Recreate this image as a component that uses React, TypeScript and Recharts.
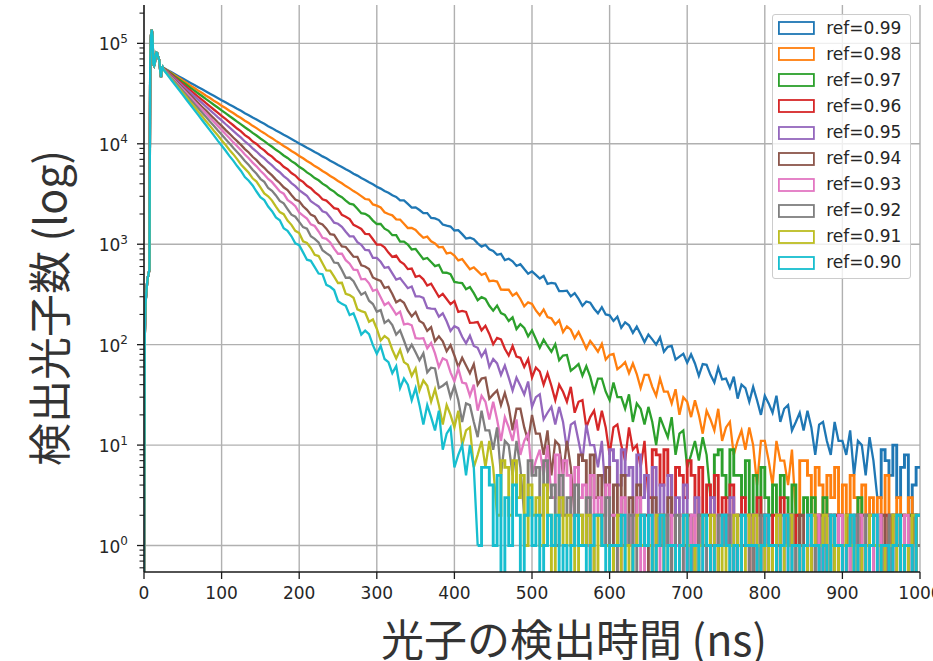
import React from 'react';
import { LineChart, Line, XAxis, YAxis, CartesianGrid, Legend } from 'recharts';

// ---- series ---------------------------------------------------------------
const seriesNames = [
  'ref=0.99', 'ref=0.98', 'ref=0.97', 'ref=0.96', 'ref=0.95',
  'ref=0.94', 'ref=0.93', 'ref=0.92', 'ref=0.91', 'ref=0.90',
];
const seriesColors = [
  '#1f77b4', '#ff7f0e', '#2ca02c', '#d62728', '#9467bd',
  '#8c564b', '#e377c2', '#7f7f7f', '#bcbd22', '#17becf',
];

// detection-time samples (ns): 1 ns steps through the rise, then every 5 ns
const riseTimes = [0, 1, 2, 3, 4, 5, 6, 7, 8, 9, 10, 11, 12, 13, 14, 15, 16, 17, 18, 19, 20, 21, 22, 23, 24];
const decayStart = 25;
const decayStep = 5;
const timeEnd = 1000;

// photon counts during the rise (common to all reflectivities)
const riseCounts = [
  0, 120, 260, 330, 410, 470, 510, 560, 66000, 120000,
  137000, 118000, 62000, 60000, 64000, 76000, 81000, 80000, 74000, 71000,
  66000, 52000, 46000, 56000, 58000,
];

// photon counts from 25 ns to 995 ns, one value per 5 ns
const ref099 = [
  57150, 54380, 51780, 49240, 46900, 44590, 42480, 40380, 38480, 36580,
  34850, 33130, 31570, 30010, 28600, 27180, 25900, 24610, 23460, 22290,
  21300, 20150, 19280, 18250, 17450, 16550, 15800, 14980, 14320, 13570,
  12960, 12280, 11730, 11170, 10630, 10080, 9640, 9130, 8730, 8270,
  7910, 7490, 7170, 6790, 6480, 6150, 5880, 5570, 5320, 5040,
  4820, 4570, 4370, 4140, 3960, 3740, 3580, 3390, 3250, 3070,
  2960, 2740, 2730, 2520, 2320, 2330, 2190, 2040, 2040, 1830,
  1810, 1740, 1570, 1530, 1500, 1370, 1380, 1260, 1140, 1160,
  1120, 1020, 948, 987, 890, 857, 785, 803, 694, 717,
  676, 608, 633, 566, 509, 537, 496, 456, 483, 403,
  412, 406, 342, 342, 345, 303, 326, 286, 244, 269,
  262, 228, 205, 236, 200, 196, 172, 190, 147, 167,
  156, 131, 151, 127, 106, 126, 113, 100, 118, 85,
  95, 97, 71, 76, 81, 66, 80, 65, 49, 64,
  63, 50, 42, 59, 45, 46, 37, 48, 29, 40,
  37, 27, 38, 28, 20, 31, 26, 21, 31, 17,
  23, 25, 14, 17, 21, 14, 22, 15, 8, 16,
  17, 11, 8, 17, 11, 11, 8, 14, 5, 11,
  10, 5, 12, 7, 3, 9, 7, 5, 10, 3,
  6, 8, 2, 4, 6,
];
const ref098 = [
  56900, 53650, 50750, 47850, 45250, 42650, 40350, 37950, 35950, 33850,
  32050, 30150, 28550, 26850, 25450, 23950, 22700, 21350, 20250, 19000,
  18050, 16950, 16080, 15100, 14320, 13450, 12760, 11990, 11380, 10690,
  10140, 9520, 9040, 8490, 8060, 7570, 7180, 6740, 6400, 6000,
  5700, 5360, 5080, 4780, 4530, 4260, 4040, 3790, 3600, 3380,
  3210, 3010, 2820, 2780, 2490, 2420, 2320, 2080, 2000, 1940,
  1770, 1760, 1600, 1450, 1450, 1390, 1260, 1160, 1190, 1070,
  1020, 930, 940, 810, 825, 772, 690, 710, 632, 564,
  589, 540, 494, 515, 429, 434, 425, 354, 352, 352,
  307, 327, 285, 241, 264, 255, 219, 196, 224, 188,
  183, 159, 175, 133, 152, 141, 116, 134, 111, 91,
  109, 97, 85, 102, 71, 79, 81, 57, 61, 67,
  52, 65, 51, 37, 50, 50, 38, 31, 46, 34,
  34, 26, 36, 20, 30, 27, 19, 28, 20, 13,
  22, 18, 14, 23, 11, 15, 17, 8, 11, 14,
  9, 15, 10, 4, 11, 11, 7, 4, 11, 7,
  7, 4, 9, 2, 7, 7, 5, 2, 6, 4,
  2, 5, 3, 6, 2, 4, 1, 5, 3, 2,
  4, 2, 3, 1, 3, 2, 5, 1, 2, 3,
  1, 2, 3, 1, 2,
];
const ref097 = [
  56700, 53050, 49850, 46650, 43800, 41000, 38500, 36050, 33850, 31680,
  29750, 27850, 26150, 24480, 22990, 21520, 20210, 18910, 17770, 16620,
  15620, 14610, 13740, 12840, 12080, 11290, 10620, 9920, 9340, 8710,
  8220, 7650, 7230, 6720, 6360, 5900, 5590, 5190, 4910, 4560,
  4330, 4010, 3800, 3520, 3340, 3090, 2940, 2720, 2530, 2480,
  2260, 2040, 2010, 1900, 1720, 1590, 1590, 1430, 1360, 1230,
  1230, 1060, 1060, 991, 886, 897, 797, 711, 729, 666,
  606, 624, 521, 520, 504, 422, 415, 410, 357, 375,
  326, 277, 297, 285, 244, 218, 245, 206, 198, 172,
  187, 143, 160, 147, 121, 139, 114, 93, 112, 97,
  85, 101, 70, 78, 79, 55, 59, 64, 49, 61,
  48, 34, 46, 46, 34, 28, 42, 30, 30, 23,
  32, 17, 26, 23, 16, 24, 17, 10, 19, 15,
  12, 19, 8, 13, 14, 6, 8, 11, 7, 12,
  8, 3, 8, 9, 5, 3, 9, 5, 5, 3,
  7, 1, 5, 2, 6, 3, 2, 4, 1, 5,
  3, 2, 4, 1, 2, 3, 1, 3, 2, 1,
  3, 2, 1, 2, 2, 1, 2, 1, 2, 3,
  1, 2, 1, 2, 2, 1, 0, 2, 1, 2,
  2, 1, 2, 1, 2,
];
const ref096 = [
  56350, 52450, 48740, 45380, 42170, 39260, 36470, 33960, 31540, 29370,
  27320, 25370, 23640, 21950, 20450, 18980, 17690, 16410, 15300, 14190,
  13300, 12200, 11500, 10550, 9950, 9150, 8600, 7900, 7450, 6840,
  6440, 5900, 5580, 5110, 4830, 4410, 4180, 3820, 3610, 3300,
  3090, 2800, 2720, 2500, 2290, 2240, 1960, 1880, 1780, 1560,
  1490, 1420, 1270, 1260, 1120, 990, 990, 932, 826, 748,
  769, 673, 635, 565, 572, 474, 486, 447, 388, 404,
  348, 299, 320, 285, 253, 271, 212, 217, 212, 165,
  166, 168, 139, 154, 128, 101, 117, 113, 91, 78,
  97, 76, 74, 60, 72, 47, 59, 54, 40, 52,
  39, 28, 40, 34, 27, 38, 21, 27, 28, 15,
  19, 22, 14, 22, 15, 8, 15, 16, 10, 7,
  15, 9, 10, 6, 11, 3, 9, 8, 4, 9,
  5, 1, 6, 5, 3, 7, 5, 1, 6, 2,
  4, 2, 5, 1, 3, 1, 4, 2, 1, 3,
  2, 0, 2, 3, 1, 2, 1, 2, 0, 3,
  1, 2, 1, 2, 0, 1, 2, 1, 2, 1,
  0, 2, 1, 2, 1, 0, 2, 1, 1, 2,
  0, 1, 2, 1, 1, 0, 2, 1, 2, 1,
  0, 1, 1, 2, 1,
];
const ref095 = [
  56150, 51890, 47890, 44280, 40850, 37770, 34850, 32230, 29720, 27490,
  25360, 23460, 21630, 20020, 18450, 17080, 15740, 14580, 13430, 12440,
  11500, 10550, 9830, 9000, 8380, 7680, 7150, 6550, 6100, 5580,
  5210, 4760, 4440, 4060, 3790, 3460, 3240, 3030, 2680, 2520,
  2380, 2130, 2060, 1850, 1640, 1600, 1490, 1330, 1200, 1200,
  1050, 985, 878, 869, 730, 731, 669, 583, 592, 513,
  444, 460, 410, 365, 379, 303, 303, 292, 232, 228,
  227, 190, 205, 171, 137, 153, 146, 120, 103, 123,
  97, 93, 76, 88, 60, 72, 65, 50, 62, 47,
  35, 47, 39, 32, 43, 24, 30, 32, 18, 21,
  24, 16, 24, 17, 9, 16, 17, 11, 7, 16,
  10, 10, 6, 11, 3, 9, 7, 4, 9, 5,
  6, 2, 8, 3, 5, 1, 6, 2, 4, 1,
  5, 2, 3, 1, 4, 0, 2, 3, 1, 2,
  1, 3, 0, 2, 2, 1, 3, 1, 0, 2,
  1, 1, 2, 1, 0, 2, 1, 1, 2, 0,
  1, 2, 1, 1, 0, 1, 2, 1, 1, 0,
  1, 2, 2, 1, 0, 1, 1, 2, 1, 0,
  1, 1, 2, 0, 2, 1, 0, 1, 0, 2,
  1, 1, 1, 0, 2,
];
const ref094 = [
  55880, 51220, 46880, 42990, 39360, 36100, 33040, 30310, 27730, 25440,
  23270, 21360, 19540, 17940, 16400, 15060, 13760, 12650, 11550, 10620,
  9750, 8860, 8190, 7430, 6880, 6240, 5770, 5240, 4850, 4400,
  4070, 3690, 3460, 3090, 2790, 2690, 2390, 2200, 1970, 1890,
  1630, 1570, 1430, 1260, 1240, 1080, 949, 939, 841, 751,
  748, 617, 600, 566, 467, 446, 431, 367, 376, 320,
  264, 279, 261, 218, 191, 211, 172, 163, 137, 149,
  108, 121, 108, 86, 99, 78, 60, 74, 62, 52,
  64, 40, 46, 47, 29, 32, 35, 25, 33, 24,
  14, 23, 23, 15, 11, 20, 13, 13, 8, 14,
  5, 11, 10, 5, 11, 6, 2, 8, 7, 2,
  8, 3, 5, 2, 6, 1, 4, 2, 5, 1,
  3, 1, 4, 2, 2, 0, 3, 1, 2, 1,
  3, 0, 1, 2, 1, 2, 0, 1, 2, 1,
  2, 1, 0, 1, 1, 2, 1, 0, 2, 1,
  1, 2, 0, 1, 2, 1, 1, 0, 2, 1,
  1, 2, 0, 1, 2, 1, 1, 0, 1, 2,
  1, 1, 0, 1, 2, 1, 1, 0, 1, 2,
  2, 1, 0, 1, 1, 2, 1, 0, 1, 1,
  2, 1, 0, 2, 1,
];
const ref093 = [
  55700, 50750, 46200, 42120, 38330, 34960, 31810, 29010, 26390, 24080,
  21900, 19990, 18170, 16590, 15080, 13770, 12510, 11430, 10380, 9490,
  8660, 7830, 7190, 6500, 5970, 5390, 4950, 4470, 4150, 3740,
  3360, 3190, 2760, 2590, 2390, 2070, 1930, 1800, 1580, 1520,
  1340, 1160, 1130, 1040, 905, 804, 807, 693, 640, 558,
  554, 447, 452, 408, 344, 354, 297, 248, 263, 230,
  199, 213, 159, 162, 156, 116, 115, 116, 92, 104,
  82, 60, 73, 70, 53, 43, 58, 42, 41, 31,
  40, 22, 31, 27, 18, 27, 18, 11, 19, 15,
  11, 18, 8, 11, 13, 5, 7, 9, 5, 10,
  3, 8, 2, 7, 5, 2, 6, 3, 4, 1,
  5, 2, 3, 1, 4, 2, 2, 0, 3, 1,
  2, 1, 3, 0, 1, 2, 1, 2, 0, 1,
  2, 1, 1, 2, 0, 1, 2, 1, 1, 0,
  1, 0, 2, 1, 1, 2, 1, 0, 0, 1,
  2, 1, 2, 1, 0, 1, 1, 1, 2, 0,
  0, 2, 1, 1, 1, 0, 1, 2, 2, 1,
  0, 1, 1, 1, 2, 0, 0, 1, 1, 2,
  1, 2, 0, 1, 2, 0, 1, 1, 1, 1,
  0, 2, 0, 1, 1,
];
const ref092 = [
  55450, 50200, 45380, 41100, 37130, 33630, 30390, 27540, 24870, 22540,
  20360, 18460, 16650, 15100, 13630, 12370, 11150, 10130, 9130, 8290,
  7510, 6750, 6140, 5520, 5030, 4480, 4180, 3630, 3400, 3060,
  2700, 2550, 2240, 1970, 1880, 1670, 1480, 1430, 1200, 1130,
  1040, 873, 816, 768, 657, 648, 554, 463, 466, 429,
  362, 314, 332, 274, 254, 213, 221, 165, 176, 157,
  126, 139, 110, 86, 100, 84, 70, 82, 53, 59,
  58, 37, 39, 42, 30, 39, 28, 17, 26, 25,
  17, 12, 22, 14, 14, 9, 15, 5, 11, 10,
  5, 11, 6, 2, 7, 5, 6, 2, 7, 3,
  4, 1, 5, 2, 3, 1, 4, 2, 1, 3,
  0, 2, 2, 1, 3, 1, 0, 2, 1, 1,
  2, 0, 1, 2, 1, 1, 0, 2, 1, 2,
  1, 0, 2, 1, 0, 1, 1, 0, 2, 1,
  0, 1, 1, 2, 1, 2, 0, 1, 2, 1,
  1, 0, 1, 0, 2, 1, 0, 1, 1, 2,
  1, 2, 1, 0, 1, 0, 2, 1, 0, 1,
  1, 0, 2, 1, 0, 1, 1, 1, 2, 0,
  0, 2, 1, 1, 1, 0, 1, 2, 2, 1,
  0, 1, 1, 0, 1,
];
const ref091 = [
  55200, 49510, 44470, 39870, 35820, 32110, 28850, 25850, 23240, 20820,
  18720, 16760, 15080, 13490, 12150, 10860, 9800, 8740, 7890, 7040,
  6230, 5660, 5150, 4530, 4200, 3690, 3210, 3000, 2720, 2370,
  2090, 1990, 1720, 1560, 1360, 1290, 1070, 1030, 917, 783,
  763, 647, 548, 545, 475, 411, 413, 321, 312, 293,
  225, 216, 209, 169, 178, 144, 110, 122, 114, 89,
  73, 89, 67, 63, 49, 58, 35, 44, 39, 27,
  36, 25, 16, 25, 20, 15, 22, 10, 14, 15,
  6, 8, 11, 6, 11, 6, 2, 7, 6, 2,
  7, 3, 5, 1, 4, 2, 3, 1, 4, 2,
  0, 2, 3, 1, 2, 1, 0, 2, 1, 2,
  1, 0, 2, 1, 1, 0, 1, 2, 0, 1,
  0, 1, 2, 1, 1, 1, 0, 2, 2, 0,
  1, 1, 0, 1, 2, 1, 1, 0, 1, 2,
  1, 2, 0, 1, 0, 1, 1, 2, 1, 0,
  2, 1, 2, 1, 0, 1, 0, 1, 2, 0,
  1, 2, 1, 1, 0, 1, 0, 2, 1, 1,
  2, 0, 1, 0, 1, 1, 2, 1, 0, 1,
  0, 1, 2, 1, 1, 0, 1, 1, 2, 0,
  1, 0, 1, 2, 0,
];
const ref090 = [
  54900, 48900, 43480, 38740, 34480, 30730, 27310, 24340, 21650, 19310,
  17150, 15300, 13590, 12130, 10760, 9610, 8580, 7580, 6800, 6000,
  5370, 4660, 4290, 3850, 3350, 2940, 2750, 2370, 2130, 1850,
  1730, 1440, 1360, 1200, 1020, 978, 829, 701, 684, 592,
  511, 503, 394, 377, 350, 271, 255, 244, 197, 205,
  164, 126, 138, 127, 99, 81, 97, 72, 67, 52,
  61, 37, 46, 40, 28, 37, 25, 16, 25, 19,
  14, 22, 9, 13, 15, 6, 8, 10, 5, 10,
  6, 1, 6, 6, 4, 1, 5, 0, 3, 1,
  4, 2, 0, 2, 3, 1, 2, 0, 1, 2,
  1, 2, 0, 1, 0, 1, 2, 1, 1, 0,
  1, 2, 2, 1, 0, 1, 1, 1, 2, 0,
  0, 1, 1, 2, 1, 2, 0, 1, 2, 0,
  1, 1, 0, 1, 2, 0, 1, 1, 0, 2,
  1, 0, 1, 1, 2, 1, 0, 1, 0, 2,
  1, 1, 1, 0, 1, 2, 1, 1, 0, 1,
  2, 0, 1, 1, 0, 1, 2, 1, 1, 0,
  1, 0, 2, 1, 1, 0, 1, 2, 0, 1,
  1, 0, 1, 2, 0, 1, 1, 0, 1, 2,
  0, 1, 1, 0, 2,
];

// ---- axes -----------------------------------------------------------------
const xTicks = [0, 100, 200, 300, 400, 500, 600, 700, 800, 900, 1000];
const yMajorTicks = [1, 10, 100, 1000, 10000, 100000];
const yMinorTicks = [
  0.6, 0.7, 0.8, 0.9,
  2, 3, 4, 5, 6, 7, 8, 9,
  20, 30, 40, 50, 60, 70, 80, 90,
  200, 300, 400, 500, 600, 700, 800, 900,
  2000, 3000, 4000, 5000, 6000, 7000, 8000, 9000,
  20000, 30000, 40000, 50000, 60000, 70000, 80000, 90000,
  200000,
];
const yDomain: [number, number] = [0.545, 241000];
const xTitle = '光子の検出時間 (ns)';
const yTitle = '検出光子数 (log)';

// empty bins have no place on a log axis; they are sent below the frame
const EMPTY_BIN_LEVEL = 0.3;
// once a curve is down to a few counts per bin it is drawn as histogram steps
const STEP_COUNT_LEVEL = 3;

// ---- table for the chart --------------------------------------------------
const decayTimes: number[] = [];
for (let t = decayStart; t < timeEnd; t += decayStep) decayTimes.push(t);
const times = [...riseTimes, ...decayTimes, timeEnd];

const seriesCounts = [ref099, ref098, ref097, ref096, ref095, ref094, ref093, ref092, ref091, ref090];
const fullCounts = seriesCounts.map((c) => [...riseCounts, ...c, c[c.length - 1]]);

const stepFrom = fullCounts.map((c) => {
  for (let i = riseTimes.length; i < c.length; i++) if (c[i] <= STEP_COUNT_LEVEL) return i;
  return c.length - 1;
});

const rows = times.map((t, i) => {
  const row: Record<string, number | null> = { t };
  fullCounts.forEach((c, s) => {
    const v = c[i] > 0 ? c[i] : EMPTY_BIN_LEVEL;
    row[`a${s}`] = i <= stepFrom[s] ? v : null;
    row[`b${s}`] = i >= stepFrom[s] ? v : null;
  });
  return row;
});

// ---- drawing helpers ------------------------------------------------------
const TEXT = '#262626';
const SPINE = '#1a1a1a';
const LINE_WIDTH = 2.3;
const TAIL_LINE_WIDTH = 2.9;

const YTick = (props: any) => {
  const { x, y, payload } = props;
  const v = payload.value as number;
  const lg = Math.log10(v);
  const exp = Math.round(lg);
  if (Math.abs(lg - exp) > 1e-9) {
    return <line x1={x - 4.5} x2={x} y1={y} y2={y} stroke={SPINE} strokeWidth={1.1} />;
  }
  return (
    <g>
      <line x1={x - 7} x2={x} y1={y} y2={y} stroke={SPINE} strokeWidth={1.3} />
      <text x={x - 16} y={y + 7} textAnchor="end" fontFamily="DejaVu Sans" fontSize={17} fill={TEXT}>
        10<tspan dy={-7.5} fontSize={12}>{exp}</tspan>
      </text>
    </g>
  );
};

const XTick = (props: any) => {
  const { x, y, payload } = props;
  return (
    <g>
      <line x1={x} x2={x} y1={y} y2={y + 7} stroke={SPINE} strokeWidth={1.3} />
      <text x={x} y={y + 27} textAnchor="middle" fontFamily="DejaVu Sans" fontSize={17} fill={TEXT}>
        {payload.value}
      </text>
    </g>
  );
};

const XTitle = (props: any) => {
  const vb = props.viewBox || { x: 144, y: 572, width: 776, height: 30 };
  return (
    <text
      x={vb.x + vb.width / 2 + 42}
      y={vb.y + 84}
      textAnchor="middle"
      fontFamily="'Noto Sans CJK JP', sans-serif"
      fontSize={43}
      fill="#333333"
    >
      {xTitle}
    </text>
  );
};

const YTitle = (props: any) => {
  const vb = props.viewBox || { x: 84, y: 5, width: 60, height: 567 };
  const cx = vb.x - 18;
  const cy = vb.y + vb.height / 2 + 19.5;
  return (
    <text
      x={0}
      y={0}
      transform={`translate(${cx}, ${cy}) rotate(-90)`}
      textAnchor="middle"
      fontFamily="'Noto Sans CJK JP', sans-serif"
      fontSize={43}
      fill="#333333"
    >
      {yTitle}
    </text>
  );
};

const LegendBox = (props: any) => {
  const seen = new Set<string>();
  const payload = ((props.payload || []) as any[])
    .filter((e) => e.type !== 'none' && seriesNames.includes(e.value))
    .filter((e) => (seen.has(e.value) ? false : (seen.add(e.value), true)))
    .sort((a, b) => seriesNames.indexOf(a.value) - seriesNames.indexOf(b.value));
  return (
    <div
      style={{
        boxSizing: 'border-box',
        width: 139,
        height: 265,
        background: 'rgba(255,255,255,0.8)',
        border: '1px solid #cccccc',
        borderRadius: 3,
        paddingTop: 0.3,
      }}
    >
      {payload.map((entry) => (
        <div key={entry.value} style={{ height: 26.05, display: 'flex', alignItems: 'center' }}>
          <svg width={37} height={14} style={{ marginLeft: 5, flex: 'none' }}>
            <rect x={0.9} y={1} width={35} height={12} fill="none" stroke={entry.color} strokeWidth={1.8} />
          </svg>
          <span
            style={{
              marginLeft: 11.2,
              fontFamily: 'DejaVu Sans',
              fontSize: 17,
              lineHeight: 1,
              color: TEXT,
              whiteSpace: 'nowrap',
            }}
          >
            {entry.value}
          </span>
        </div>
      ))}
    </div>
  );
};

export default function App() {
  return (
    <div style={{ position: 'absolute', left: 0, top: 0, width: 933, height: 661, background: '#ffffff' }}>
      <LineChart
        width={933}
        height={661}
        data={rows}
        margin={{ top: 5, right: 13, bottom: 59, left: 84 }}
        style={{ fontFamily: 'DejaVu Sans' }}
      >
        <CartesianGrid
          horizontalValues={yMajorTicks}
          verticalValues={xTicks}
          stroke="#b0b0b0"
          strokeWidth={1.4}
        />
        <XAxis
          dataKey="t"
          type="number"
          domain={[0, timeEnd]}
          ticks={xTicks}
          interval={0}
          allowDataOverflow
          height={30}
          tickSize={0}
          tickMargin={0}
          tickLine={false}
          tick={<XTick />}
          axisLine={{ stroke: SPINE, strokeWidth: 1.5 }}
          label={<XTitle />}
        />
        <XAxis
          xAxisId="top"
          orientation="top"
          type="number"
          domain={[0, timeEnd]}
          height={0}
          tick={false}
          tickLine={false}
          axisLine={{ stroke: SPINE, strokeWidth: 1.5 }}
        />
        <YAxis
          type="number"
          scale="log"
          domain={yDomain}
          allowDataOverflow
          ticks={[...yMajorTicks, ...yMinorTicks]}
          interval={0}
          width={60}
          tickSize={0}
          tickMargin={0}
          tickLine={false}
          tick={<YTick />}
          axisLine={{ stroke: SPINE, strokeWidth: 1.5 }}
          label={<YTitle />}
        />
        <YAxis
          yAxisId="right"
          orientation="right"
          width={0}
          tick={false}
          tickLine={false}
          axisLine={{ stroke: SPINE, strokeWidth: 1.5 }}
        />
        {seriesNames.flatMap((name, s) => [
          <Line
            key={`${name}-decay`}
            name={name}
            dataKey={`a${s}`}
            type="linear"
            stroke={seriesColors[s]}
            strokeWidth={LINE_WIDTH}
            strokeLinejoin="miter"
            dot={false}
            activeDot={false}
            isAnimationActive={false}
          />,
          <Line
            key={`${name}-tail`}
            name={`${name} tail`}
            legendType="none"
            dataKey={`b${s}`}
            type="stepAfter"
            stroke={seriesColors[s]}
            strokeWidth={TAIL_LINE_WIDTH}
            dot={false}
            activeDot={false}
            isAnimationActive={false}
          />,
        ])}
        <Legend
          layout="vertical"
          align="center"
          verticalAlign="middle"
          content={<LegendBox />}
          wrapperStyle={{ position: 'absolute', left: 772, top: 14, width: 139, height: 265 }}
        />
      </LineChart>
    </div>
  );
}
